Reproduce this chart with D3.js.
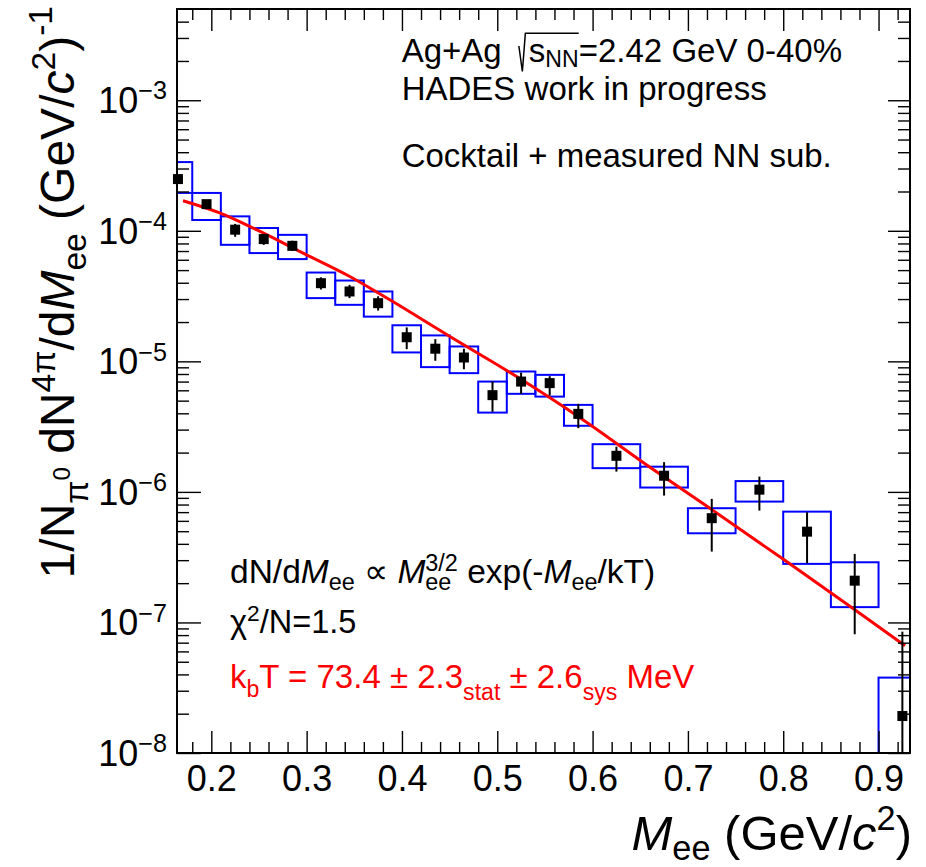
<!DOCTYPE html>
<html>
<head>
<meta charset="utf-8">
<script src="https://cdn.jsdelivr.net/npm/d3@7"></script>
<style>
  html, body { margin: 0; padding: 0; background: #fff; }
  svg { display: block; }
  text { font-family: 'Liberation Sans', Arial, Helvetica, sans-serif; white-space: pre; }
</style>
</head>
<body>
<div id="chart"></div>
<script>
// dielectron invariant mass spectrum, Ag+Ag 2.42 GeV
const mee = [0.165, 0.195, 0.225, 0.255, 0.285, 0.315, 0.345, 0.375, 0.405, 0.435, 0.465,
  0.495, 0.525, 0.555, 0.585, 0.625, 0.675, 0.725, 0.775, 0.825, 0.875, 0.925]
const binHalf = [0.015, 0.015, 0.015, 0.015, 0.015, 0.015, 0.015, 0.015, 0.015, 0.015, 0.015,
  0.015, 0.015, 0.015, 0.015, 0.025, 0.025, 0.025, 0.025, 0.025, 0.025, 0.025]
const yields = [2.49e-4, 1.60e-4, 1.02e-4, 8.64e-5, 7.67e-5, 3.97e-5, 3.43e-5, 2.79e-5, 1.53e-5, 1.25e-5, 1.07e-5,
  5.51e-6, 7.0e-6, 6.81e-6, 3.96e-6, 1.89e-6, 1.33e-6, 6.29e-7, 1.04e-6, 4.96e-7, 2.09e-7, 1.92e-8]
const statLo = [2.35e-4, 1.48e-4, 9.0e-5, 7.8e-5, 7.0e-5, 3.55e-5, 3.05e-5, 2.45e-5, 1.24e-5, 1.01e-5, 8.71e-6,
  4.1e-6, 5.64e-6, 5.47e-6, 3.08e-6, 1.43e-6, 9.37e-7, 3.49e-7, 7.19e-7, 2.84e-7, 8.12e-8, 1e-9]
const statHi = [2.63e-4, 1.72e-4, 1.13e-4, 9.5e-5, 8.4e-5, 4.4e-5, 3.85e-5, 3.15e-5, 1.82e-5, 1.48e-5, 1.25e-5,
  7.0e-6, 8.2e-6, 7.7e-6, 4.72e-6, 2.22e-6, 1.69e-6, 8.84e-7, 1.31e-6, 6.99e-7, 3.35e-7, 8.5e-8]
const sysLo = [1.95e-4, 1.21e-4, 7.81e-5, 6.75e-5, 6.07e-5, 3.05e-5, 2.71e-5, 2.20e-5, 1.17e-5, 9.03e-6, 8.12e-6,
  4.05e-6, 5.64e-6, 5.37e-6, 3.21e-6, 1.52e-6, 1.08e-6, 4.82e-7, 8.43e-7, 2.81e-7, 1.31e-7, 5e-9]
const sysHi = [3.36e-4, 1.95e-4, 1.29e-4, 1.05e-4, 9.31e-5, 4.79e-5, 4.16e-5, 3.43e-5, 1.89e-5, 1.58e-5, 1.30e-5,
  7.0e-6, 8.36e-6, 7.88e-6, 4.64e-6, 2.32e-6, 1.56e-6, 7.5e-7, 1.21e-6, 7.06e-7, 2.89e-7, 3.78e-8]

// fitted curve M^{3/2} exp(-M/kT), sampled from the plotted red line
const fitM = [0.1703, 0.2088, 0.2473, 0.2963, 0.3453, 0.3873, 0.4503, 0.5203, 0.5902, 0.6602, 0.7231, 0.7998, 0.8733, 0.9278]
const fitY = [1.70e-4, 1.37e-4, 1.02e-4, 6.75e-5, 4.47e-5, 2.96e-5, 1.55e-5, 7.65e-6, 3.56e-6, 1.545e-6, 7.48e-7, 3.06e-7, 1.28e-7, 6.64e-8]

const xMajor = [0.2, 0.3, 0.4, 0.5, 0.6, 0.7, 0.8, 0.9]
const xTickLabels = ['0.2', '0.3', '0.4', '0.5', '0.6', '0.7', '0.8', '0.9']
const yMajorExp = [-8, -7, -6, -5, -4, -3]

const W = 926, H = 867
const m = { l: 177, r: 910, t: 9, b: 753 }

const svg = d3.select('#chart').append('svg').attr('width', W).attr('height', H)

const x = d3.scaleLinear().domain([0.164, 0.933]).range([m.l, m.r])
const y = d3.scaleLog().domain([1e-8, 5e-3]).range([m.b, m.t])

// small TLatex-like helper: parts with scale, baseline shift (em), italic, back-step for stacked scripts
function rich(g, px, py, parts, base, opts = {}) {
  const text = g.append('text').attr('x', px).attr('y', py)
    .style('font-size', base + 'px')
    .attr('text-anchor', opts.anchor || 'start')
    .attr('fill', opts.fill || '#000')
  if (opts.transform) text.attr('transform', opts.transform)
  let prev = 0, last = null
  parts.forEach(p => {
    const s = p.s || 1, sh = p.sh || 0
    const ts = text.append('tspan').text(p.t)
      .style('font-size', (base * s) + 'px')
      .attr('dy', ((prev - sh) * base).toFixed(2))
    if (p.it) ts.style('font-style', 'italic')
    let dx = p.dx || 0
    if (p.back && last) dx -= last.node().getComputedTextLength()
    if (dx) ts.attr('dx', dx)
    prev = sh
    last = ts
    p.node = ts.node()
  })
  return text
}

const clipId = 'plotclip'
svg.append('defs').append('clipPath').attr('id', clipId)
  .append('rect').attr('x', m.l).attr('y', m.t).attr('width', m.r - m.l).attr('height', m.b - m.t)

const plot = svg.append('g').attr('clip-path', `url(#${clipId})`)
const idx = d3.range(mee.length)

// systematic boxes
plot.append('g').selectAll('rect').data(idx).join('rect')
  .attr('x', i => x(mee[i] - binHalf[i]))
  .attr('width', i => x(mee[i] + binHalf[i]) - x(mee[i] - binHalf[i]))
  .attr('y', i => y(sysHi[i]))
  .attr('height', i => y(sysLo[i]) - y(sysHi[i]))
  .attr('fill', 'none').attr('stroke', '#0000ff').attr('stroke-width', 2)

// fit
const line = d3.line().x((d, i) => x(fitM[i])).y((d, i) => y(fitY[i])).curve(d3.curveMonotoneX)
plot.append('path').datum(fitM).attr('d', line)
  .attr('fill', 'none').attr('stroke', '#ff0000').attr('stroke-width', 3)

// stat errors
plot.append('g').selectAll('line').data(idx).join('line')
  .attr('x1', i => x(mee[i])).attr('x2', i => x(mee[i]))
  .attr('y1', i => y(statHi[i])).attr('y2', i => y(statLo[i]))
  .attr('stroke', '#000').attr('stroke-width', 2)

// markers (not clipped)
svg.append('g').selectAll('rect').data(idx).join('rect')
  .attr('x', i => x(mee[i]) - 5).attr('y', i => y(yields[i]) - 5)
  .attr('width', 10).attr('height', 10).attr('fill', '#000')

// axes
const xMinor = d3.range(0.18, 0.93, 0.02).filter(v => xMajor.every(t => Math.abs(t - v) > 1e-6))
const yMinor = []
yMajorExp.forEach(e => { for (let k = 2; k <= 9; k++) { const v = k * Math.pow(10, e); if (v < 5e-3) yMinor.push(v) } })
const yMajor = yMajorExp.map(e => Math.pow(10, e))

function styleAxis(g) {
  g.select('.domain').remove()
  g.selectAll('.tick line').attr('stroke', '#000').attr('stroke-width', 1.4)
}

svg.append('g').attr('transform', `translate(0,${m.b})`)
  .call(d3.axisBottom(x).tickValues(xMajor).tickSize(-22).tickPadding(12.4)
    .tickFormat((d, i) => xTickLabels[i]))
  .call(styleAxis)
  .call(g => g.selectAll('.tick text').attr('fill', '#000')
    .style('font-size', '36px').style('font-family', "'Liberation Sans', Arial, Helvetica, sans-serif"))
svg.append('g').attr('transform', `translate(0,${m.b})`)
  .call(d3.axisBottom(x).tickValues(xMinor).tickSize(-11).tickFormat('')).call(styleAxis)
svg.append('g').attr('transform', `translate(0,${m.t})`)
  .call(d3.axisTop(x).tickValues(xMajor).tickSize(-22).tickFormat('')).call(styleAxis)
svg.append('g').attr('transform', `translate(0,${m.t})`)
  .call(d3.axisTop(x).tickValues(xMinor).tickSize(-11).tickFormat('')).call(styleAxis)

svg.append('g').attr('transform', `translate(${m.l},0)`)
  .call(d3.axisLeft(y).tickValues(yMajor).tickSize(-24).tickFormat('')).call(styleAxis)
svg.append('g').attr('transform', `translate(${m.l},0)`)
  .call(d3.axisLeft(y).tickValues(yMinor).tickSize(-12).tickFormat('')).call(styleAxis)
svg.append('g').attr('transform', `translate(${m.r},0)`)
  .call(d3.axisRight(y).tickValues(yMajor).tickSize(-22).tickFormat('')).call(styleAxis)
svg.append('g').attr('transform', `translate(${m.r},0)`)
  .call(d3.axisRight(y).tickValues(yMinor).tickSize(-12).tickFormat('')).call(styleAxis)

// y tick labels 10^{-n}
const ylab = svg.append('g')
yMajorExp.forEach(e => {
  rich(ylab, 167, y(Math.pow(10, e)) + 12.9,
    [{ t: '10' }, { t: '\u2212' + Math.abs(e), s: 0.7, sh: 0.38 }], 36, { anchor: 'end' })
})

// frame
svg.append('rect').attr('x', m.l).attr('y', m.t).attr('width', m.r - m.l).attr('height', m.b - m.t)
  .attr('fill', 'none').attr('stroke', '#000').attr('stroke-width', 2)

// axis titles
rich(svg, 912, 850, [
  { t: 'M', it: 1 }, { t: 'ee', s: 0.7, sh: -0.2 }, { t: ' (GeV/' }, { t: 'c', it: 1 },
  { t: '2', s: 0.7, sh: 0.4 }, { t: ')' }
], 49, { anchor: 'end' })

rich(svg, 0, 0, [
  { t: '1/N' }, { t: '\u03c0', s: 0.7, sh: -0.3 }, { t: '0', s: 0.5, sh: 0.08 },
  { t: ' dN' }, { t: '4\u03c0', s: 0.7, sh: 0.4 }, { t: '/d' }, { t: 'M', it: 1 },
  { t: 'ee', s: 0.7, sh: -0.25 }, { t: ' (GeV/' }, { t: 'c', it: 1 }, { t: '2', s: 0.7, sh: 0.4 },
  { t: ')' }, { t: '-1', s: 0.7, sh: 0.45 }
], 48, { anchor: 'end', transform: 'translate(74,6) rotate(-90)' })

// labels
const top1 = [{ t: 'Ag+Ag ' }, { t: 's', dx: 18 }, { t: 'NN', s: 0.7, sh: -0.15 }, { t: '=2.42 GeV 0-40%' }]
rich(svg, 401.7, 61.7, top1, 33)
const sx = top1[1].node.getStartPositionOfChar(0).x
const ex = top1[3].node.getStartPositionOfChar(0).x
svg.append('path')
  .attr('d', `M${sx - 10},46 L${sx - 6.5},71.5 L${sx - 3.5},33.3 L${ex},33.3`)
  .attr('fill', 'none').attr('stroke', '#000').attr('stroke-width', 1.5)
rich(svg, 401.7, 100, [{ t: 'HADES work in progress' }], 33)
rich(svg, 401.7, 167, [{ t: 'Cocktail + measured NN sub.' }], 33)

rich(svg, 230, 583, [
  { t: 'dN/d' }, { t: 'M', it: 1 }, { t: 'ee', s: 0.7, sh: -0.22 }, { t: ' \u221d ' },
  { t: 'M', it: 1 }, { t: 'ee', s: 0.7, sh: -0.22 }, { t: '3/2', s: 0.7, sh: 0.36, back: 1 },
  { t: ' exp(-' }, { t: 'M', it: 1 }, { t: 'ee', s: 0.7, sh: -0.22 }, { t: '/kT)' }
], 33.5)
rich(svg, 230, 633, [{ t: '\u03c7' }, { t: '2', s: 0.7, sh: 0.36 }, { t: '/N=1.5' }], 32.5)
rich(svg, 230, 688, [
  { t: 'k' }, { t: 'b', s: 0.7, sh: -0.26 }, { t: 'T = 73.4 \u00b1 2.3' }, { t: 'stat', s: 0.7, sh: -0.35 },
  { t: ' \u00b1 2.6' }, { t: 'sys', s: 0.7, sh: -0.35 }, { t: ' MeV' }
], 33, { fill: '#ff0000' })
</script>
</body>
</html>
